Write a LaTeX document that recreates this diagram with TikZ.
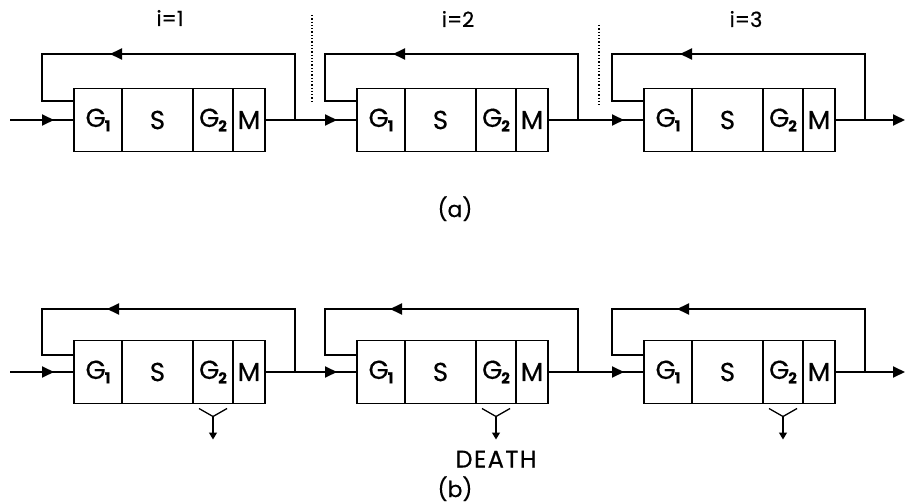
\documentclass[tikz,border=0pt]{standalone}
\usepackage{fontspec}
\setmainfont{Poppins}[FakeBold=0.5]
\usetikzlibrary{arrows.meta,decorations.markings}
\newcommand\subn[1]{\kern-1pt\raisebox{-4.5pt}{\fontsize{15}{15}\selectfont\bfseries #1}}
\newcommand\stage[3]{%
  \node[cell,minimum width=48pt] (#1g1) at (#2,#3) {G\subn{1}};
  \node[cell,minimum width=71pt] (#1s) at (#1g1.east) {S};
  \node[cell,minimum width=40pt] (#1g2) at (#1s.east) {G\subn{2}};
  \node[cell,minimum width=32pt] (#1m) at (#1g2.east) {M};
}
\begin{document}
\begin{tikzpicture}[x=1pt,y=-1pt,
  cell/.style={draw,line width=1.9pt,minimum height=63pt,inner sep=0pt,outer sep=0pt,anchor=west,
    font=\fontsize{26}{26}\selectfont},
  wire/.style={line width=1.9pt},
  fwd/.style={wire,postaction={decorate},decoration={markings,
    mark=at position -20pt with {\arrow{Triangle[length=12pt,width=11pt]}}}},
  back/.style={wire,postaction={decorate},decoration={markings,
    mark=at position 251pt with {\arrow{Triangle[length=12pt,width=11pt]}}}},
  lab/.style={anchor=base,font=\fontsize{21}{21}\selectfont},
  captionlab/.style={anchor=base,font=\fontsize{22}{22}\selectfont},
  sep/.style={line width=1.3pt,dotted},
  fork/.style={line width=1.3pt},
]
\useasboundingbox (0,0) rectangle (906,503);

% ---------- row (a)
\stage{a1}{74}{120}
\stage{a2}{357}{120}
\stage{a3}{644}{120}

\node[lab] (i1) at (170,26) {i=1};
\node[lab] (i2) at (458,27) {i=2};
\node[lab] (i3) at (746,27) {i=3};
\node[captionlab] (capa) at (455,217) {(a)};

\draw[sep] (312,15) -- (312,104);
\draw[sep] (599,25) -- (599,105);

\coordinate (ain) at ([xshift=-64pt]a1g1.west);
\coordinate (aout) at ([xshift=70pt]a3m.east);
\draw[fwd] (ain) -- (a1g1.west);
\draw[fwd] (a1m.east) -- (a2g1.west);
\draw[fwd] (a2m.east) -- (a3g1.west);
\draw[wire,-{Triangle[length=12pt,width=11pt]}] (a3m.east) -- (aout);

\foreach \k in {1,2,3}{
  \coordinate (a\k tap) at ([xshift=30pt]a\k m.east);
  \coordinate (a\k tl) at ([xshift=-32pt,yshift=66pt]a\k g1.west);
  \coordinate (a\k bl) at ([xshift=-32pt,yshift=19pt]a\k g1.west);
  \coordinate (a\k join) at ([yshift=19pt]a\k g1.west);
  \draw[back] (a\k tap) |- (a\k tl) -- (a\k bl) -- (a\k join);
}

% ---------- row (b)
\stage{b1}{74}{372}
\stage{b2}{357}{372}
\stage{b3}{644}{372}

\node[captionlab] (capb) at (455,497) {(b)};
\node[anchor=base,font=\fontsize{24}{24}\selectfont\addfontfeature{LetterSpace=6}] (death) at ([yshift=-64pt]b2g2.south) {DEATH};

\coordinate (bin) at ([xshift=-64pt]b1g1.west);
\coordinate (bout) at ([xshift=70pt]b3m.east);
\draw[fwd] (bin) -- (b1g1.west);
\draw[fwd] (b1m.east) -- (b2g1.west);
\draw[fwd] (b2m.east) -- (b3g1.west);
\draw[wire,-{Triangle[length=12pt,width=11pt]}] (b3m.east) -- (bout);

\foreach \k in {1,2,3}{
  \coordinate (b\k tap) at ([xshift=30pt]b\k m.east);
  \coordinate (b\k tl) at ([xshift=-32pt,yshift=63pt]b\k g1.west);
  \coordinate (b\k bl) at ([xshift=-32pt,yshift=17pt]b\k g1.west);
  \coordinate (b\k join) at ([yshift=17pt]b\k g1.west);
  \draw[back] (b\k tap) |- (b\k tl) -- (b\k bl) -- (b\k join);
  \coordinate (b\k fl) at ([xshift=-14pt,yshift=-5pt]b\k g2.south);
  \coordinate (b\k fr) at ([xshift=14pt,yshift=-5pt]b\k g2.south);
  \coordinate (b\k fc) at ([yshift=-13pt]b\k g2.south);
  \coordinate (b\k fe) at ([yshift=-36pt]b\k g2.south);
  \draw[fork] (b\k fl) -- (b\k fc) -- (b\k fr);
  \draw[fork,-{Triangle[length=7pt,width=8pt]}] (b\k fc) -- (b\k fe);
}
\end{tikzpicture}
\end{document}
